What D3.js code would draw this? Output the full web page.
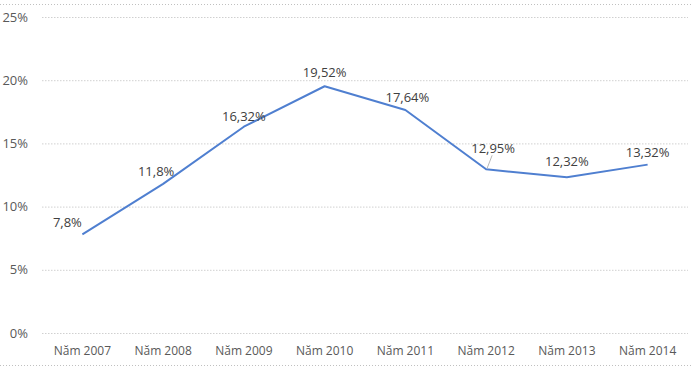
<!DOCTYPE html>
<html><head><meta charset="utf-8">
<script src="https://cdn.jsdelivr.net/npm/d3@7"></script>
<style>
body{margin:0;background:#fff;}
text{font-family:"Open Sans","Noto Sans",sans-serif;}
</style></head>
<body><svg id="c" width="692" height="367"></svg>
<script>
const categories = ["Năm 2007","Năm 2008","Năm 2009","Năm 2010","Năm 2011","Năm 2012","Năm 2013","Năm 2014"];
const values = [7.8, 11.8, 16.32, 19.52, 17.64, 12.95, 12.32, 13.32];
const valueLabels = ["7,8%","11,8%","16,32%","19,52%","17,64%","12,95%","12,32%","13,32%"];
const yTicks = [0,5,10,15,20,25];

(function(){
const svg = d3.select("#c");
const W=692,H=367;
const mLeft=42,mRight=688,mTop=17,mBottom=333;

[4.5,365.5].forEach(yy=>svg.append("line").attr("x1",0).attr("x2",W).attr("y1",yy).attr("y2",yy)
  .attr("stroke","#c0c0c0").attr("stroke-dasharray","1,2"));

const x = d3.scaleBand().domain(categories).range([mLeft,mRight]);
const y = d3.scaleLinear().domain([0,25]).range([mBottom,mTop]);

const yAxis = d3.axisLeft(y).tickValues(yTicks).tickSize(-(mRight-mLeft)).tickFormat(d=>d+"%");
const gy = svg.append("g").attr("transform",`translate(${mLeft},0)`).call(yAxis);
gy.select(".domain").remove();
gy.selectAll(".tick line").attr("stroke","#d0d0d0").attr("stroke-dasharray","1.5,1.5");
gy.selectAll(".tick text").attr("x",-14).attr("fill","#595959").style("font-size","13px");

const xAxis = d3.axisBottom(x).tickSize(0);
const gx = svg.append("g").attr("transform",`translate(0,${mBottom})`).call(xAxis);
gx.select(".domain").remove();
gx.selectAll(".tick text").attr("dy","1.55em").attr("fill","#595959").style("font-size","12px");

const cx = d=>x(d)+x.bandwidth()/2;
const line = d3.line().x((d,i)=>cx(categories[i])).y(d=>y(d));
svg.append("path").datum(values).attr("d",line).attr("fill","none")
  .attr("stroke","#4f7fd0").attr("stroke-width",2).attr("stroke-linejoin","round");

const offs = [[-15,-7],[-7,-8],[0,-6],[0,-9],[2,-8],[7,-16],[0,-11],[0,-8]];
{
  const px=cx(categories[5]), py=y(values[5]);
  svg.append("line").attr("x1",px+1).attr("y1",py-1).attr("x2",px+6).attr("y2",py-14)
    .attr("stroke","#a6a6a6").attr("stroke-width",0.8);
}
svg.append("g").selectAll("text").data(values).join("text")
  .attr("x",(d,i)=>cx(categories[i])+offs[i][0])
  .attr("y",(d,i)=>y(d)+offs[i][1])
  .attr("text-anchor","middle").attr("fill","#404040").style("font-size","13px")
  .text((d,i)=>valueLabels[i]);
})();
</script></body></html>
